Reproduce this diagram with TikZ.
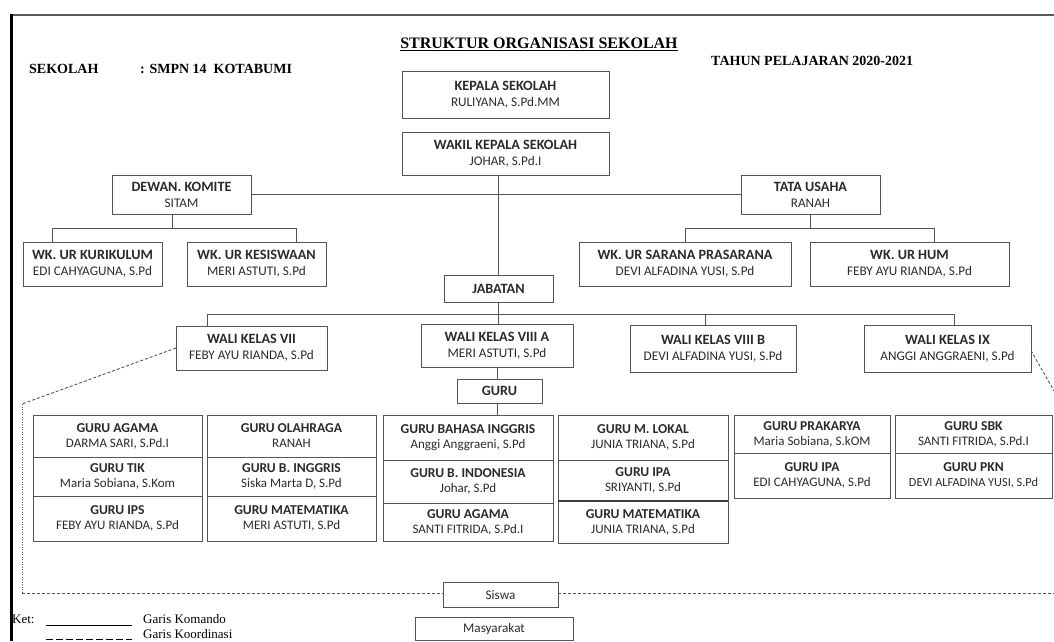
\documentclass[tikz,border=0pt]{standalone}
\usepackage{fontspec}
\setmainfont{Liberation Serif}
\newfontfamily\cf{Carlito}
\usetikzlibrary{calc}
\definecolor{linec}{HTML}{555555}
\definecolor{txtc}{HTML}{2A2A2A}
\tikzset{
 box/.style={draw=linec, line width=0.9pt, inner sep=0pt, outer sep=0pt, align=center, text=txtc, font=\cf\fontsize{13.2}{16}\selectfont},
 cell/.style={box, font=\cf\fontsize{13}{15}\selectfont},
 cmd/.style={draw=linec, line width=0.9pt},
 coord/.style={draw=linec, line width=0.9pt, dash pattern=on 3pt off 2pt},
 coordv/.style={draw=linec, line width=0.9pt, dash pattern=on 1pt off 1.5pt},
 legdash/.style={draw=black, line width=0.8pt, dash pattern=on 7pt off 3pt},
 head/.style={font=\bfseries\fontsize{14}{16}\selectfont, inner sep=0pt, anchor=west},
 leg/.style={font=\fontsize{13}{15}\selectfont, inner sep=0pt, anchor=west},
}
\newcommand\obox[7]{\node[#7, minimum width={#4-#2}, minimum height={#5-#3}] (#1) at ({(#2+#4)/2},{(#3+#5)/2}) {#6};}
\newcommand\tb[1]{{\bfseries\fontsize{14.2}{16}\selectfont #1}}
\newcommand\tcl[1]{{\bfseries\fontsize{13.6}{15}\selectfont #1}}
\begin{document}
\begin{tikzpicture}[x=1pt,y=-1pt]
\useasboundingbox (0,0) rectangle (1054,641);
% frame
\draw[line width=2.5pt, gray!70!black] (10,15) -- (1054,15);
\draw[line width=3.5pt, black] (11.5,14) -- (11.5,641);
% headings
\node[head] (sek) at (29,69) {SEKOLAH};
\node[head] (smp) at (140,69) {: SMPN 14\ \ KOTABUMI};
\node[head, anchor=center, font=\bfseries\fontsize{16}{18}\selectfont] (title) at (539,44) {\underline{STRUKTUR ORGANISASI SEKOLAH}};
\node[head] (tahun) at (711,61) {TAHUN PELAJARAN 2020-2021};
% boxes
\obox{kep}{402}{71}{609}{118}{\tb{KEPALA SEKOLAH}\\RULIYANA, S.Pd.MM}{box}
\obox{wak}{402}{132}{609}{175}{\tb{WAKIL KEPALA SEKOLAH}\\JOHAR, S.Pd.I}{box}
\obox{dew}{112}{175}{251}{214}{\tb{DEWAN. KOMITE}\\SITAM}{box}
\obox{tata}{741}{175}{880}{214}{\tb{TATA USAHA}\\RANAH}{box}
\obox{kur}{23}{242}{162}{286}{\tb{WK. UR KURIKULUM}\\EDI CAHYAGUNA, S.Pd}{box}
\obox{kes}{187}{242}{326}{286}{\tb{WK. UR KESISWAAN}\\MERI ASTUTI, S.Pd}{box}
\obox{sar}{579}{242}{791}{286}{\tb{WK. UR SARANA PRASARANA}\\DEVI ALFADINA YUSI, S.Pd}{box}
\obox{hum}{810}{242}{1009}{286}{\tb{WK. UR HUM}\\FEBY AYU RIANDA, S.Pd}{box}
\obox{jab}{444}{275}{553}{302}{\tb{JABATAN}}{box}
\obox{w7}{176}{326}{327}{370}{\tb{WALI KELAS VII}\\FEBY AYU RIANDA, S.Pd}{box}
\obox{w8a}{421}{324}{573}{367}{\tb{WALI KELAS VIII A}\\MERI ASTUTI, S.Pd}{box}
\obox{w8b}{630}{325}{796}{372}{\tb{WALI KELAS VIII B}\\DEVI ALFADINA YUSI, S.Pd}{box}
\obox{w9}{864}{325}{1031}{372}{\tb{WALI KELAS IX}\\ANGGI ANGGRAENI, S.Pd}{box}
\obox{guru}{457}{379}{542}{403}{\tb{GURU}}{box}
% guru table
\obox{c11}{33}{415}{202}{457}{\tcl{GURU AGAMA}\\DARMA SARI, S.Pd.I}{cell}
\obox{c12}{33}{457}{202}{496}{\tcl{GURU TIK}\\Maria Sobiana, S.Kom}{cell}
\obox{c13}{33}{496}{202}{541}{\tcl{GURU IPS}\\FEBY AYU RIANDA, S.Pd}{cell}
\obox{c21}{207}{415}{376}{457}{\tcl{GURU OLAHRAGA}\\RANAH}{cell}
\obox{c22}{207}{457}{376}{496}{\tcl{GURU B. INGGRIS}\\Siska Marta D, S.Pd}{cell}
\obox{c23}{207}{496}{376}{541}{\tcl{GURU MATEMATIKA}\\MERI ASTUTI, S.Pd}{cell}
\obox{c31}{383}{415}{553}{460}{\tcl{GURU BAHASA INGGRIS}\\Anggi Anggraeni, S.Pd}{cell}
\obox{c32}{383}{460}{553}{503}{\tcl{GURU B. INDONESIA}\\Johar, S.Pd}{cell}
\obox{c33}{383}{503}{553}{541}{\tcl{GURU AGAMA}\\SANTI FITRIDA, S.Pd.I}{cell}
\obox{c41}{558}{415}{728}{460}{\tcl{GURU M. LOKAL}\\JUNIA TRIANA, S.Pd}{cell}
\obox{c42}{558}{460}{728}{501}{\tcl{GURU IPA}\\SRIYANTI, S.Pd}{cell}
\obox{c43}{558}{501}{728}{543}{\tcl{GURU MATEMATIKA}\\JUNIA TRIANA, S.Pd}{cell}
\draw[cmd, line width=1.6pt, draw=linec!70!black] (c42.south west) -- (c42.south east);
\obox{c51}{734}{415}{890}{453}{\tcl{GURU PRAKARYA}\\Maria Sobiana, S.kOM}{cell}
\obox{c52}{734}{453}{890}{498}{\tcl{GURU IPA}\\EDI CAHYAGUNA, S.Pd}{cell}
\obox{c61}{895}{415}{1052}{453}{\tcl{GURU SBK}\\SANTI FITRIDA, S.Pd.I}{cell}
\obox{c62}{895}{453}{1052}{498}{\tcl{GURU PKN}\\{\fontsize{12.3}{15}\selectfont DEVI ALFADINA YUSI, S.Pd}}{cell}
\obox{sis}{443}{582}{558}{607}{Siswa}{box}
\obox{mas}{415}{617}{573}{640}{Masyarakat}{box}
% command lines
\draw[cmd] (kep.south -| jab.north) -- (kep.south -| jab.north |- wak.north);
\draw[cmd] (wak.south -| jab.north) -- (jab.north);
\draw[cmd] (dew.east) -- (tata.west);
\draw[cmd] ([xshift=-9.5pt]dew.south) -- ++(0,14);
\draw[cmd] ([xshift=-40.5pt]kur.north) -- ++(0,-14) -| ([xshift=39.5pt]kes.north);
\draw[cmd] (tata.south) -- ++(0,14);
\draw[cmd] (sar.north) -- ++(0,-14) -| ([xshift=24.5pt]hum.north);
\draw[cmd] (jab.south) -- (jab.south |- w8a.north);
\draw[cmd] ([xshift=-44.5pt]w7.north) -- ++(0,-12) -| ([xshift=6.5pt]w9.north);
\draw[cmd] ([xshift=-8pt]w8b.north) -- ++(0,-11);
\draw[cmd] (w8a.south) -- (w8a.south |- guru.north);
\draw[cmd] (guru.south -| w8a.south) -- (w8a.south |- c31.north);
% coordination lines
\coordinate (lc1) at (22,404);
\coordinate (lc2) at (22,593);
\coordinate (rc1) at (1054,391);
\coordinate (rc2) at (1054,593);
\draw[coord] (w7.west) -- (lc1);
\draw[coordv] (lc1) -- (lc2);
\draw[coord] (lc2) -- (lc2 -| sis.west);
\draw[coord] (sis.east |- lc2) -- (rc2);
\draw[coord] ([yshift=-2pt]w9.east) -- (rc1);
% legend
\node[leg] (ket) at (12,619) {Ket:};
\coordinate (k1) at (46,625); \coordinate (k2) at (132,625);
\coordinate (k3) at (46,639); \coordinate (k4) at (132,639);
\draw[draw=black, line width=0.8pt] (k1) -- (k2);
\draw[legdash] (k3) -- (k4);
\node[leg] (gk) at (143,619) {Garis Komando};
\node[leg] (gko) at (143,634) {Garis Koordinasi};
\end{tikzpicture}
\end{document}
